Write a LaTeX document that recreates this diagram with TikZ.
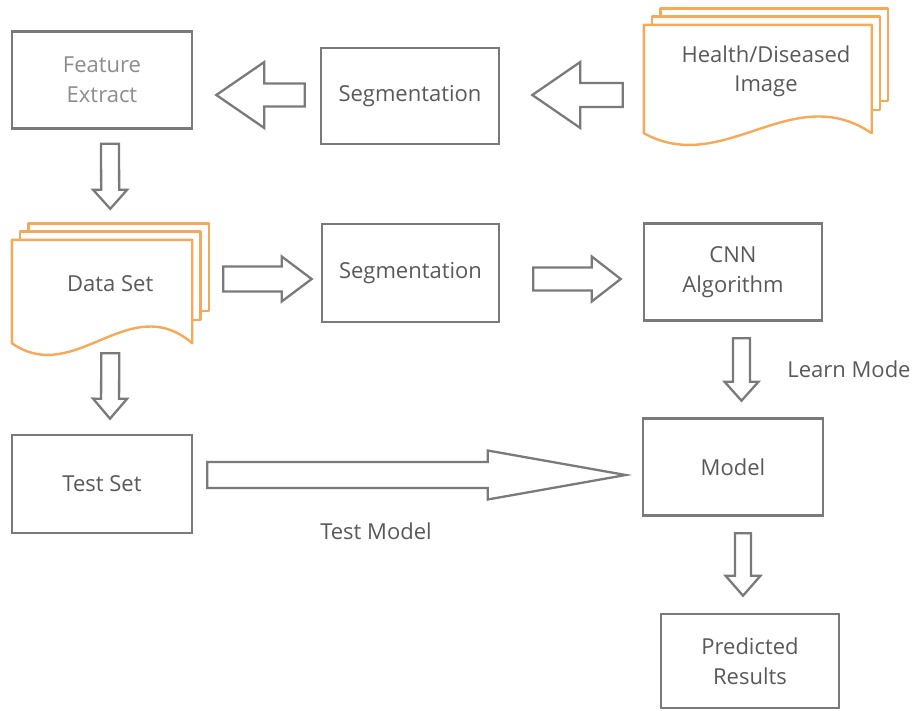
\documentclass[tikz,border=0pt]{standalone}
\usepackage{fontspec}
\setmainfont{Open Sans}
\usepackage{xcolor}
\usepackage{tikz}
\usetikzlibrary{positioning,calc}

\definecolor{boxgray}{HTML}{7A7A7A}
\definecolor{txtgray}{HTML}{595959}
\definecolor{fadegray}{HTML}{8C8C8C}
\definecolor{docorange}{HTML}{F7A957}

% outlined block arrow: from, to, shaft half width, head half width, head length
\newcommand{\blockarrow}[5]{%
  \coordinate (hb) at ($(#2)!#5!(#1)$);
  \draw[arr] ($(#1)!#3!90:(#2)$) -- ($(hb)!#3!90:(#2)$) -- ($(hb)!#4!90:(#2)$) -- (#2)
    -- ($(hb)!#4!-90:(#2)$) -- ($(hb)!#3!-90:(#2)$) -- ($(#1)!#3!-90:(#2)$) -- cycle;
}

% stack of three pages round a node
\newcommand{\docstack}[1]{%
  \coordinate (#1-tl) at (#1.north west);
  \coordinate (#1-tr) at ([xshift=-16.5pt]#1.north east);
  \coordinate (#1-bl) at ([yshift=-15pt]#1.south west);
  \coordinate (#1-br) at ([xshift=-16.5pt,yshift=-15pt]#1.south east);
  \draw[docline] (#1-bl) -- (#1-tl) -- (#1-tr) -- (#1-br)
    .. controls ($(#1-bl)!0.65!(#1-br)+(0pt,54pt)$) and ($(#1-bl)!0.35!(#1-br)+(0pt,-44pt)$) .. (#1-bl) -- cycle;
  \draw[docline] ([xshift=8.25pt]#1-tl) -- ++(0pt,8.25pt) -| ([xshift=8.25pt,yshift=23pt]#1-br) -- ++(-8.25pt,0pt);
  \draw[docline] ([xshift=16.5pt,yshift=8.25pt]#1-tl) -- ++(0pt,8.25pt) -| ([xshift=16.5pt,yshift=32pt]#1-br) -- ++(-8.25pt,0pt);
}

\begin{document}
\begin{tikzpicture}[x=1pt, y=-1pt,
  box/.style={draw=boxgray, line width=2.6pt, minimum width=180pt, minimum height=97pt,
    inner sep=0pt, align=center, text=txtgray, font=\fontsize{22}{29.5}\selectfont},
  doc/.style={inner sep=0pt, align=center, text=txtgray, font=\fontsize{22}{29.5}\selectfont},
  docline/.style={draw=docorange, line width=2.4pt, line join=round},
  arr/.style={draw=boxgray, line width=2.3pt, line join=miter},
  lbl/.style={text=txtgray, font=\fontsize{22}{29.5}\selectfont}]
\useasboundingbox (0,0) rectangle (916,710);

% top row
\node[box, text=fadegray] (fe) at (102,80) {Feature\\Extract};
\node[box, minimum width=178pt, minimum height=96pt] (seg1) at (410,96) {Segmentation};
\node[doc, minimum width=244pt, minimum height=93pt] (health) at (766,71.5) {Health/Diseased\\Image};
\docstack{health}

% middle row
\node[doc, minimum width=196.5pt, minimum height=88pt] (data) at (110.25,284) {Data Set};
\docstack{data}
\node[box, minimum width=177pt, minimum height=98pt] (seg2) at (410.5,273) {Segmentation};
\node[box, minimum width=178pt] (cnn) at (733,272) {CNN\\Algorithm};

% bottom rows
\node[box, minimum height=98pt] (test) at (102,484) {Test Set};
\node[box] (model) at (733,467) {Model};
\node[box, minimum width=178pt, minimum height=94pt] (pred) at (750,661) {Predicted\\Results};

\node[lbl] (learn) at (849,369) {Learn Mode};
\node[lbl] (testm) at (376,531) {Test Model};

% arrows
\coordinate (a1s) at ($(seg1.west)+(-15,-1)$);
\coordinate (a1e) at ($(fe.east |- seg1.west)+(23,-1)$);
\blockarrow{a1s}{a1e}{11.5pt}{33pt}{48pt}
\coordinate (a2s) at ($(health.west |- seg1.east)+(-21,-1)$);
\coordinate (a2e) at ($(seg1.east)+(32,-1)$);
\blockarrow{a2s}{a2e}{12pt}{33pt}{48pt}
\coordinate (d1s) at ($(fe.south)+(8,14)$);
\coordinate (d1e) at ($(data.north)+(0,-31)$);
\blockarrow{d1s}{d1e}{9pt}{17pt}{19pt}
\coordinate (r1s) at ($(data.east)+(14.5,-5)$);
\coordinate (r1e) at ($(seg2.west)+(-9,6)$);
\blockarrow{r1s}{r1e}{12.5pt}{22.5pt}{30pt}
\coordinate (r2s) at ($(seg2.east)+(33,6)$);
\coordinate (r2e) at ($(cnn.west)+(-22,7)$);
\blockarrow{r2s}{r2e}{11.5pt}{22.5pt}{29pt}
\coordinate (d2s) at ($(data.south)+(0,25)$);
\coordinate (d2e) at ($(test.north)+(8,-15)$);
\blockarrow{d2s}{d2e}{9pt}{17pt}{20pt}
\coordinate (bs) at ($(test.east)+(14,-9)$);
\coordinate (be) at ($(model.west)+(-16,8)$);
\blockarrow{bs}{be}{13pt}{24.5pt}{138pt}
\coordinate (d3s) at ($(cnn.south)+(8.5,16.5)$);
\coordinate (d3e) at ($(model.north)+(8.5,-16.5)$);
\blockarrow{d3s}{d3e}{8.5pt}{17pt}{19pt}
\coordinate (d4s) at ($(model.south)+(10,16.5)$);
\coordinate (d4e) at ($(pred.north)+(-7,-17)$);
\blockarrow{d4s}{d4e}{8pt}{17.5pt}{20pt}
\end{tikzpicture}
\end{document}
